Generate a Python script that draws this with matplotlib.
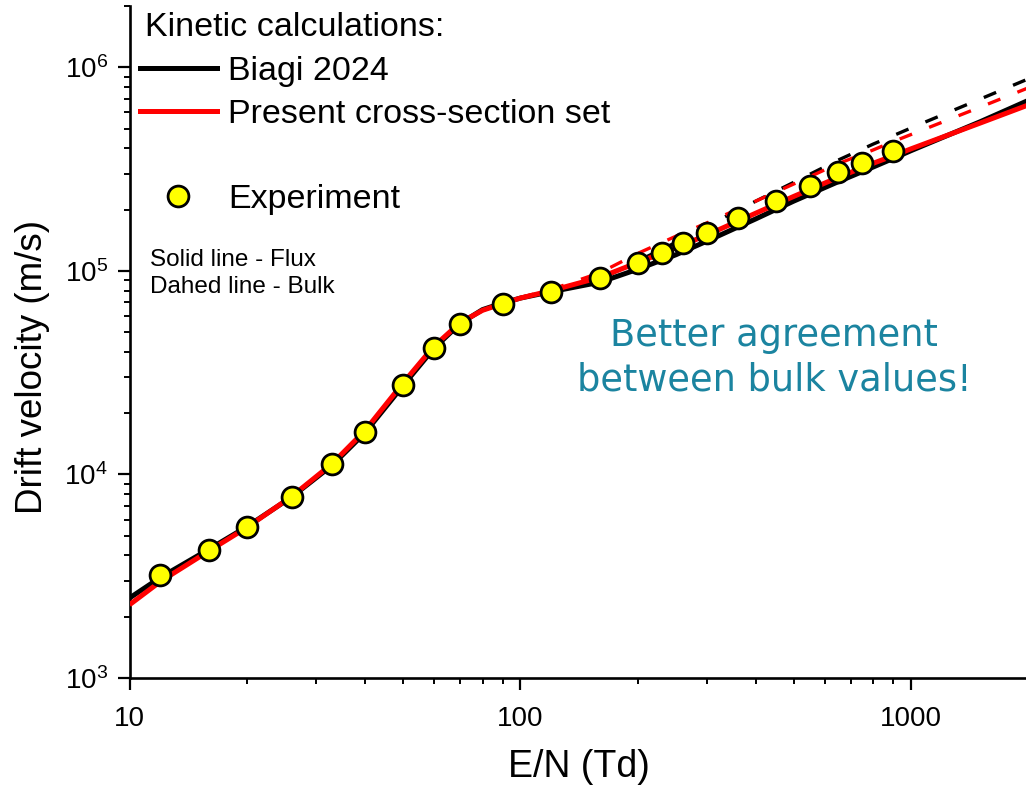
import matplotlib
matplotlib.use("Agg")
import matplotlib.pyplot as plt
from matplotlib.lines import Line2D
from matplotlib.ticker import LogLocator, FixedLocator, FixedFormatter, NullFormatter

plt.rcParams['font.family'] = ['Liberation Sans', 'DejaVu Sans']

# Measured electron drift velocity vs reduced field
exp_en = [12, 16, 20, 26, 33, 40, 50, 60, 70, 90, 120, 160, 200, 230, 260,
          300, 360, 450, 550, 650, 750, 900]
exp_w = [3.21e3, 4.26e3, 5.54e3, 7.78e3, 1.124e4, 1.625e4, 2.754e4, 4.17e4,
         5.47e4, 6.86e4, 7.91e4, 9.19e4, 1.099e5, 1.222e5, 1.368e5, 1.543e5,
         1.815e5, 2.216e5, 2.624e5, 3.055e5, 3.383e5, 3.901e5]

# Flux drift velocities from the kinetic calculations
calc_en = [10, 12, 16, 20, 26, 33, 40, 50, 60, 70, 80, 90, 100, 120, 160, 200,
           250, 300, 400, 500, 650, 800, 900, 1000, 1500, 2000]
biagi_flux = [2.47e3, 3.12e3, 4.3e3, 5.55e3, 7.75e3, 1.11e4, 1.6e4, 2.72e4,
              4.15e4, 5.5e4, 6.45e4, 6.95e4, 7.35e4, 7.9e4, 8.8e4, 1.02e5,
              1.2e5, 1.4e5, 1.8e5, 2.2e5, 2.74e5, 3.24e5, 3.57e5, 3.9e5,
              5.4e5, 6.9e5]
present_flux = [2.29e3, 2.98e3, 4.22e3, 5.5e3, 7.8e3, 1.13e4, 1.64e4, 2.8e4,
                4.25e4, 5.55e4, 6.4e4, 6.9e4, 7.35e4, 8.0e4, 9.3e4, 1.1e5,
                1.3e5, 1.5e5, 1.92e5, 2.32e5, 2.88e5, 3.38e5, 3.68e5, 3.98e5,
                5.32e5, 6.55e5]

# Bulk drift velocities from the kinetic calculations
bulk_en = [100, 120, 160, 200, 250, 300, 400, 500, 650, 800, 900, 1000, 1500, 2000]
biagi_bulk = [7.35e4, 7.9e4, 9.1e4, 1.12e5, 1.38e5, 1.66e5, 2.2e5, 2.72e5,
              3.5e5, 4.2e5, 4.62e5, 5.04e5, 6.98e5, 8.8e5]
present_bulk = [7.4e4, 8.1e4, 9.8e4, 1.22e5, 1.48e5, 1.72e5, 2.2e5, 2.67e5,
                3.36e5, 3.93e5, 4.32e5, 4.68e5, 6.37e5, 7.95e5]

x_ticks = [10, 100, 1000]
x_tick_labels = ['10', '100', '1000']

W, H = 1026, 786
fig = plt.figure(figsize=(W / 100, H / 100), dpi=100)
ax = fig.add_axes([129.5 / W, 1 - 678 / H, (1029 - 129.5) / W, (678 - 6) / H])

lw_solid = 3.6
lw_dash = 2.4
ax.plot(calc_en, biagi_flux, color='black', lw=lw_solid, solid_capstyle='butt', zorder=2)
ax.plot(calc_en, present_flux, color='#ff0000', lw=lw_solid, solid_capstyle='butt', zorder=3)
ax.plot(bulk_en, biagi_bulk, color='black', lw=lw_dash, dashes=(4, 5.5), zorder=2.5)
ax.plot(bulk_en, present_bulk, color='#ff0000', lw=lw_dash, dashes=(4, 5.5), zorder=3.5)
ax.plot(exp_en, exp_w, ls='none', marker='o', ms=15, mfc='#ffff00', mec='black',
        mew=2.0, zorder=5)

ax.set_xscale('log')
ax.set_yscale('log')
ax.set_xlim(10, 2000)
ax.set_ylim(1e3, 2e6)

for s in ('top', 'right'):
    ax.spines[s].set_visible(False)
for s in ('left', 'bottom'):
    ax.spines[s].set_linewidth(1.9)

ax.xaxis.set_major_locator(FixedLocator(x_ticks))
ax.xaxis.set_major_formatter(FixedFormatter(x_tick_labels))
ax.xaxis.set_minor_locator(LogLocator(base=10, subs=range(2, 10)))
ax.xaxis.set_minor_formatter(NullFormatter())
ax.yaxis.set_major_locator(LogLocator(base=10, numticks=10))
ax.yaxis.set_minor_locator(LogLocator(base=10, subs=range(2, 10), numticks=10))
ax.yaxis.set_minor_formatter(NullFormatter())

ax.tick_params(which='major', direction='out', length=8.5, width=1.6,
               labelsize=20, pad=7)
ax.tick_params(which='minor', direction='out', length=4.5, width=1.4)
ax.tick_params(axis='x', which='major', pad=12)

ax.set_xlabel('E/N (Td)', fontsize=27, labelpad=12)
ax.set_ylabel('Drift velocity (m/s)', fontsize=26.5)
ax.yaxis.set_label_coords(-(129.5 - 50) / (1029 - 129.5), (678 - 367) / 672)

fig.text(145 / W, 1 - 27 / H, 'Kinetic calculations:', fontsize=24.5,
         ha='left', va='center')

handles = [
    Line2D([], [], color='black', lw=3.6),
    Line2D([], [], color='#ff0000', lw=3.6),
    Line2D([], [], ls='none'),
    Line2D([], [], ls='none', marker='o', ms=15, mfc='#ffff00', mec='black', mew=2.0),
]
labels = ['Biagi 2024', 'Present cross-section set', ' ', 'Experiment']
leg = ax.legend(handles, labels, loc='upper left',
                bbox_to_anchor=(140 / W, 1 - 56 / H), bbox_transform=fig.transFigure,
                frameon=False, fontsize=24.5, borderpad=0,
                borderaxespad=0, handlelength=2.25, handletextpad=0.34,
                labelspacing=0.34)

fig.text(150 / W, 1 - 249 / H, 'Solid line - Flux\nDahed line - Bulk',
         fontsize=17.5, ha='left', va='top', linespacing=1.28)

fig.text(774 / W, 1 - 358 / H, 'Better agreement\nbetween bulk values!',
         fontsize=26.5, color='#1b84a0', ha='center', va='center',
         multialignment='center', linespacing=1.25, family='DejaVu Sans')

fig.savefig('out.png', dpi=100)
